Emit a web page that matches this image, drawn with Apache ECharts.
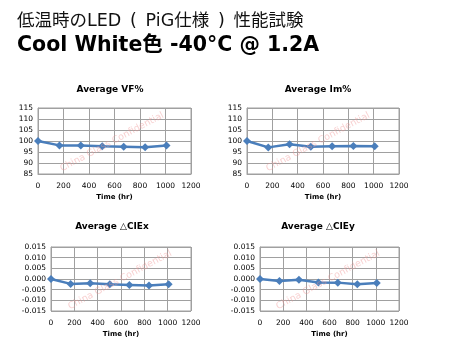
<!DOCTYPE html>
<html><head><meta charset="utf-8">
<script src="https://cdn.jsdelivr.net/npm/echarts@6/dist/echarts.min.js"></script>
<style>html,body{margin:0;padding:0;background:#fff}#c{width:473px;height:344px}</style>
</head><body><div id="c"></div>
<script>
const hours = [0, 168, 336, 504, 672, 840, 1008];
const vf = [100, 98, 98, 97.6, 97.4, 97.2, 98];
const im = [100, 97.1, 98.5, 97.4, 97.6, 97.7, 97.6];
const ciex = [0, -0.0023, -0.002, -0.0025, -0.0028, -0.0031, -0.0025];
const ciey = [0, -0.0009, -0.0003, -0.0016, -0.0017, -0.0025, -0.0019];
const titles = ['Average VF%', 'Average Im%', 'Average \u25B3CIEx', 'Average \u25B3CIEy'];
const header1 = '低温時のLED\u2002(\u2002PiG仕様\u2002)\u2002性能試験';
const header2 = 'Cool White色 -40°C @ 1.2A';
const xName = 'Time (hr)';
const watermark = 'China Glass Confidential';

const grids = [
  {left: 38, top: 108, width: 153, height: 66},
  {left: 247, top: 108, width: 152, height: 66},
  {left: 51, top: 247, width: 140, height: 64},
  {left: 260, top: 247, width: 139, height: 64}
];
const series = [vf, im, ciex, ciey];
const font = 'DejaVu Sans, Verdana, sans-serif';
const lineCol = '#a0a0a0';
const chart = echarts.init(document.getElementById('c'));
const option = {
  animation: false,
  textStyle: {fontFamily: font},
  grid: grids.map(g => Object.assign({show: true, borderColor: lineCol, borderWidth: 1}, g)),
  xAxis: grids.map((g, i) => ({
    gridIndex: i, type: 'value', min: 0, max: 1200, interval: 200,
    name: xName, nameLocation: 'middle', nameGap: 20,
    nameTextStyle: {fontSize: 7, fontWeight: 'bold', color: '#000', fontFamily: font},
    axisLine: {show: true, lineStyle: {color: lineCol}}, axisTick: {show: false},
    splitLine: {show: true, lineStyle: {color: lineCol}},
    axisLabel: {fontSize: 7.5, color: '#000', margin: 8, fontFamily: font, formatter: v => String(v)}
  })),
  yAxis: grids.map((g, i) => i < 2 ? {
    gridIndex: i, type: 'value', min: 85, max: 115, interval: 5,
    axisLine: {show: true, lineStyle: {color: lineCol}}, axisTick: {show: false},
    splitLine: {show: true, lineStyle: {color: lineCol}},
    axisLabel: {fontSize: 7.5, color: '#000', margin: 5, fontFamily: font}
  } : {
    gridIndex: i, type: 'value', min: -0.015, max: 0.015, interval: 0.005,
    axisLine: {show: true, lineStyle: {color: lineCol}}, axisTick: {show: false},
    splitLine: {show: true, lineStyle: {color: lineCol}},
    axisLabel: {fontSize: 7.5, color: '#000', margin: 5, fontFamily: font,
      formatter: v => (Math.abs(v) < 1e-9 ? 0 : v).toFixed(3)}
  }),
  series: series.map((d, i) => ({
    type: 'line', xAxisIndex: i, yAxisIndex: i,
    data: hours.map((h, k) => [h, d[k]]),
    symbol: 'diamond', symbolSize: 8,
    lineStyle: {color: '#4a7ebb', width: 2.5},
    itemStyle: {color: '#4a7ebb'}
  })),
  graphic: [
    {type: 'text', x: 17, y: 21, style: {text: header1, fontSize: 17.5, fill: '#111', verticalAlign: 'middle', fontFamily: 'DejaVu Sans, Noto Sans CJK JP, sans-serif'}},
    {type: 'text', x: 17, y: 46, style: {text: header2, fontSize: 20.5, fontWeight: 'bold', fill: '#000', verticalAlign: 'middle', fontFamily: 'DejaVu Sans, Noto Sans CJK JP, sans-serif'}},
    ...[[110, 90], [318, 90], [112, 227], [318, 227]].map((p, i) => ({
      type: 'text', x: p[0], y: p[1],
      style: {text: titles[i], fontSize: 9, fontWeight: 'bold', fill: '#000', align: 'center', verticalAlign: 'middle', fontFamily: font}
    })),
    ...[[112, 142], [318, 142], [120, 280], [328, 280]].map(p => ({
      type: 'text', x: p[0], y: p[1], rotation: 28 * Math.PI / 180,
      style: {text: watermark, fontSize: 9.5, fill: 'rgba(240,150,150,0.45)', align: 'center', verticalAlign: 'middle', fontFamily: font},
      z: 100
    }))
  ]
};
chart.setOption(option);
</script></body></html>
